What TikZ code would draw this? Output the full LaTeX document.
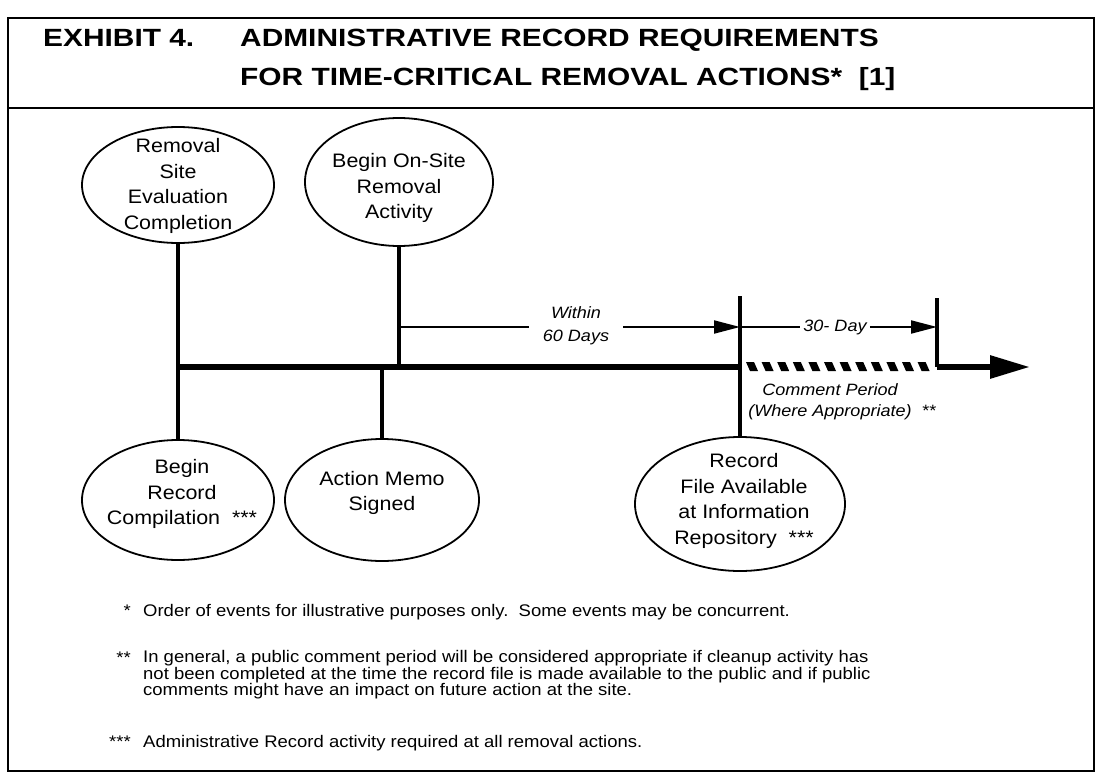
\documentclass[tikz,border=0pt]{standalone}
\usepackage{fontspec}
\setmainfont{Liberation Sans}[FakeStretch=1.1]
\newfontfamily\titlefont{Liberation Sans}[FakeStretch=1.2]
\usetikzlibrary{shapes.geometric,arrows.meta}
\newcommand{\notefontsel}{\fontsize{16.8bp}{16.5bp}\selectfont\setlength{\lineskiplimit}{-20bp}}
\begin{document}
\begin{tikzpicture}[x=1bp,y=-1bp,
  frame/.style={line width=2bp},
  evt/.style={draw, ellipse, line width=1.8bp, inner sep=0pt},
  evtext/.style={align=center, font=\fontsize{19.5bp}{25.5bp}\selectfont, inner sep=0pt},
  conn/.style={line width=3.5bp},
  timeline/.style={line width=6bp},
  span/.style={line width=2bp},
  spantip/.style={-{Triangle[length=26bp,width=13bp]}},
  spanlabel/.style={font=\fontsize{16.4bp}{23bp}\selectfont\itshape, align=center, inner sep=0pt},
  note/.style={font=\notefontsel, align=left, inner sep=0pt},
  titletext/.style={font=\titlefont\fontsize{24.9bp}{30bp}\selectfont\bfseries, inner sep=0pt, anchor=base west},
]
\useasboundingbox (0,0) rectangle (1100,773);
\fill[white] (0,0) rectangle (1100,773);

% frame and title
\draw[frame] (8,18) rectangle (1094,771);
\draw[frame] (8,108) -- (1094,108);
\node[titletext] (t1) at (43,47) {EXHIBIT 4.};
\node[titletext] (t2) at (240,47) {ADMINISTRATIVE RECORD REQUIREMENTS};
\node[titletext] (t3) at (240,86) {FOR TIME-CRITICAL REMOVAL ACTIONS*\ \ [1]};

% events
\node[evt, minimum width=192bp, minimum height=116bp] (e1) at (178,185) {};
\node[evtext] (e1t) at (178,186) {Removal\\Site\\Evaluation\\Completion};
\node[evt, minimum width=188bp, minimum height=128bp] (e2) at (399,182) {};
\node[evtext] (e2t) at (399,188) {Begin On-Site\\Removal\\Activity};
\node[evt, minimum width=192bp, minimum height=120bp] (e4) at (178,500) {};
\node[evtext] (e4t) at (182,494) {Begin\\Record\\Compilation\ \ ***};
\node[evt, minimum width=194bp, minimum height=122bp] (e3) at (382,500) {};
\node[evtext] (e3t) at (382,493) {Action Memo\\Signed};
\node[evt, minimum width=210bp, minimum height=134bp] (e5) at (740,504) {};
\node[evtext] (e5t) at (744,501) {Record\\File Available\\at Information\\Repository\ \ ***};

% timeline points
\coordinate (tlA) at (178,367);
\coordinate (tlB) at (399,367);
\coordinate (tlC) at (382,367);
\coordinate (tlR) at (740,367);
\coordinate (rtop) at (740,296);
\coordinate (dtop) at (937,298);
\coordinate (dbot) at (937,367);
\coordinate (tend) at (1030,367);

% connectors
\draw[conn] (e1.south) -- (e4.north);
\draw[conn] (e2.south) -- (tlB);
\draw[conn] (tlC) -- (e3.north);
\draw[conn] (rtop) -- (e5.north);
\draw[conn] (dtop) -- (dbot);
\draw[timeline] (tlA) -- (tlR);
\draw[timeline, -{Triangle[length=40bp,width=22bp]}] (dbot) -- (tend);

% hatched comment period
\foreach \i in {0,...,11} {
  \fill ({746+\i*15.6},362) -- ++(8,0) -- ++(4,9) -- ++(-8,0) -- cycle;
}

% within 60 days
\coordinate (wA) at (399,327);
\coordinate (wB) at (740,327);
\node[spanlabel, inner xsep=14bp] (within) at (576,326) {Within\\60 Days};
\draw[span] (wA) -- (within.west |- wA);
\draw[span, spantip] (within.east |- wA) -- (wB);

% 30-day
\coordinate (dA) at (740,327);
\coordinate (dB) at (937,327);
\node[spanlabel, inner xsep=3bp] (thirty) at (835,327) {30- Day};
\draw[span] (dA) -- (thirty.west |- dA);
\draw[span, spantip] (thirty.east |- dA) -- (dB);

\node[spanlabel] (cp) at (830,390) {Comment Period};
\node[spanlabel] (wa) at (842,412) {(Where Appropriate)\ \ **};

% footnotes
\node[note, anchor=base east] (s1) at (131,616) {*};
\node[note, anchor=base west] (n1) at (143,616) {Order of events for illustrative purposes only.\ \ Some events may be concurrent.};
\node[note, anchor=base east] (s2) at (131,663) {**};
\node[note, anchor=north west] (n2) at (143,650.5) {In general, a public comment period will be considered appropriate if cleanup activity has\\not been completed at the time the record file is made available to the public and if public\\comments might have an impact on future action at the site.};
\node[note, anchor=base east] (s3) at (131,747) {***};
\node[note, anchor=base west] (n3) at (143,747) {Administrative Record activity required at all removal actions.};
\end{tikzpicture}
\end{document}
